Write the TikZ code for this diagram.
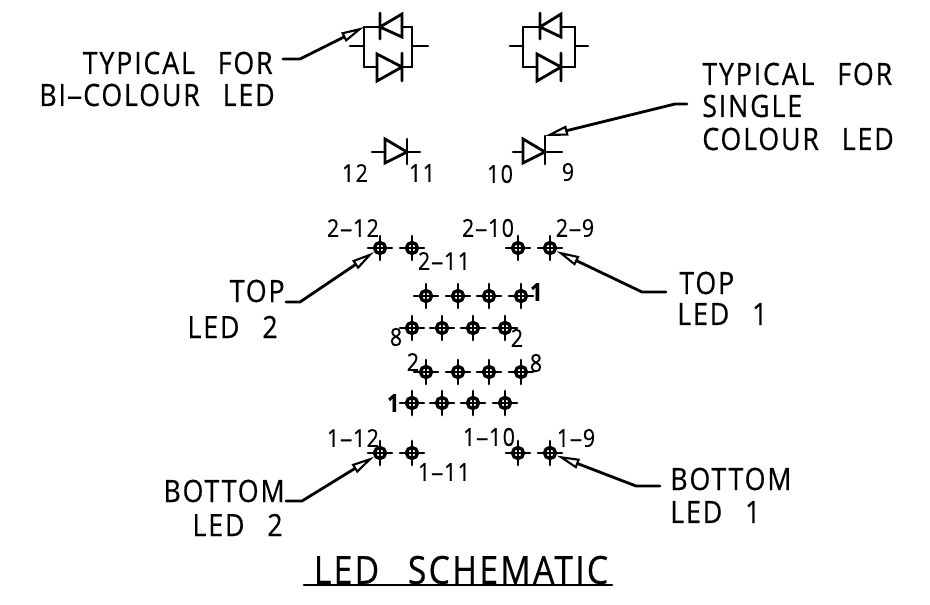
\documentclass[tikz,border=0pt]{standalone}
\usepackage{fontspec}
\usepackage{graphicx}
\usetikzlibrary{arrows.meta}
\newfontfamily\cadfont[FakeStretch=0.87,LetterSpace=6,WordSpace=2.6,FakeBold=0.5]{Open Sans}
\newcommand{\hy}{\scalebox{2}[1]{-}}
\tikzset{
  cad/.style={line width=1.6pt,line cap=round,line join=miter},
  big/.style={font=\cadfont\fontsize{17.5}{20}\selectfont,inner sep=0pt},
  huge/.style={font=\cadfont\fontsize{22}{26}\selectfont,inner sep=0pt},
  small/.style={font=\cadfont\fontsize{14}{16}\selectfont,inner sep=0pt},
  pad/.style={circle,draw,line width=1.9pt,inner sep=0pt,minimum size=0.22cm},
  leader/.style={cad,-{Triangle[open,fill=white,length=0.46cm,width=0.2cm,line width=1.2pt]}}
}
\newcommand{\padat}[3]{
  \node[pad] (#1) at (#2,#3) {};
  \draw[cad] (#2-12,#3) -- (#2+12,#3);
  \draw[cad] (#2,#3-12) -- (#2,#3+12);
}
\begin{document}
\begin{tikzpicture}[x=0.02cm,y=-0.02cm]
  \useasboundingbox (0,0) rectangle (930,605);

  % bi-colour symbols
  \draw[cad] (350,46) -- (364,46) (364,67) -- (364,27) -- (380,27)
    (402,27) -- (412,27) -- (412,67) -- (402,67) (377,67) -- (364,67) (412,46) -- (428,46);
  \draw[cad] (380,13) -- (380,39) (380,27) -- (402,14) -- (402,37) -- cycle;
  \draw[cad] (402,53) -- (402,81) (402,67) -- (377,54) -- (377,81) -- cycle;
  \draw[cad] (510,46) -- (523,46) (523,67) -- (523,27) -- (540,27)
    (561,27) -- (575,27) -- (575,67) -- (561,67) (537,67) -- (523,67) (575,46) -- (588,46);
  \draw[cad] (540,13) -- (540,39) (540,27) -- (561,14) -- (561,37) -- cycle;
  \draw[cad] (561,53) -- (561,81) (561,67) -- (537,54) -- (537,81) -- cycle;

  % single colour symbols
  \draw[cad] (372,152) -- (385,152) (407,152) -- (420,152) (407,139) -- (407,164);
  \draw[cad] (407,152) -- (385,139) -- (385,163) -- cycle;
  \draw[cad] (513,152) -- (523,152) (545,152) -- (562,152) (545,136) -- (545,164);
  \draw[cad] (545,152) -- (523,139) -- (523,163) -- cycle;

  \node[small] (pin12) at (355,173) {12};
  \node[small] (pin11) at (422,173) {11};
  \node[small] (pin10) at (500,174) {10};
  \node[small] (pin9) at (568,172) {9};

  % pads
  \foreach \x/\n in {380/a,412/b,518/c,550/d}{
    \padat{top\n}{\x}{248}
    \padat{bot\n}{\x}{453}
  }
  \foreach \x/\n in {426/a,458/b,489/c,521/d}{
    \padat{rowb\n}{\x}{296}
    \padat{rowd\n}{\x}{372}
  }
  \foreach \x/\n in {412/a,442/b,473/c,505/d}{
    \padat{rowc\n}{\x}{328}
    \padat{rowe\n}{\x}{403}
  }

  \node[small] (ltopa) at (353,228) {2\hy12};
  \node[small] (ltopc) at (488,228) {2\hy10};
  \node[small] (ltopd) at (575,228) {2\hy9};
  \node[small] (ltopb) at (444,261) {2\hy11};
  \node[small] (lbota) at (353,438) {1\hy12};
  \node[small] (lbotc) at (489,437) {1\hy10};
  \node[small] (lbotd) at (576,438) {1\hy9};
  \node[small] (lbotb) at (444,472) {1\hy11};
  \node[small] (lrowb) at (537,292) {\textbf{1}};
  \node[small] (lrowc) at (396,337) {8};
  \node[small] (lrowcb) at (517,338) {2};
  \node[small] (lrowd) at (413,362) {2};
  \node[small] (lrowdb) at (536,363) {8};
  \node[small] (lrowe) at (394,403) {\textbf{1}};

  % captions
  \node[big,anchor=east] (bia) at (273,63) {TYPICAL FOR};
  \node[big,anchor=east] (bib) at (275,95) {BI\hy COLOUR LED};
  \node[big,anchor=west] (singlea) at (702,74) {TYPICAL FOR};
  \node[big,anchor=west] (singleb) at (702,106) {SINGLE};
  \node[big,anchor=west] (singlec) at (702,139) {COLOUR LED};
  \node[big,anchor=east] (toptwoa) at (285,291) {TOP};
  \node[big,anchor=east] (toptwob) at (278,327) {LED 2};
  \node[big,anchor=west] (toponea) at (679,283) {TOP};
  \node[big,anchor=west] (toponeb) at (677,314) {LED 1};
  \node[big,anchor=east] (bottwoa) at (285,491) {BOTTOM};
  \node[big,anchor=east] (bottwob) at (283,525) {LED 2};
  \node[big,anchor=west] (botonea) at (670,479) {BOTTOM};
  \node[big,anchor=west] (botoneb) at (670,512) {LED 1};
  \node[huge] (title) at (461,570) {LED SCHEMATIC};
  \draw[cad] (304,585) -- (612,585);

  % leaders
  \coordinate (bistart) at (283,59);
  \coordinate (bibend) at (300,59);
  \coordinate (bitip) at (364,27);
  \coordinate (singlestart) at (687,104);
  \coordinate (singlebend) at (675,104);
  \coordinate (singletip) at (545,136);
  \coordinate (toptwostart) at (286,302);
  \coordinate (toptwobend) at (300,302);
  \coordinate (toponestart) at (666,292);
  \coordinate (toponebend) at (642,292);
  \coordinate (bottwostart) at (286,501);
  \coordinate (bottwobend) at (302,501);
  \coordinate (botonestart) at (660,486);
  \coordinate (botonebend) at (636,486);
  \draw[leader] (bistart) -- (bibend) -- (bitip);
  \draw[leader] (singlestart) -- (singlebend) -- (singletip);
  \draw[leader] (toptwostart) -- (toptwobend) -- (topa);
  \draw[leader] (toponestart) -- (toponebend) -- (topd);
  \draw[leader] (bottwostart) -- (bottwobend) -- (bota);
  \draw[leader] (botonestart) -- (botonebend) -- (botd);
\end{tikzpicture}
\end{document}
